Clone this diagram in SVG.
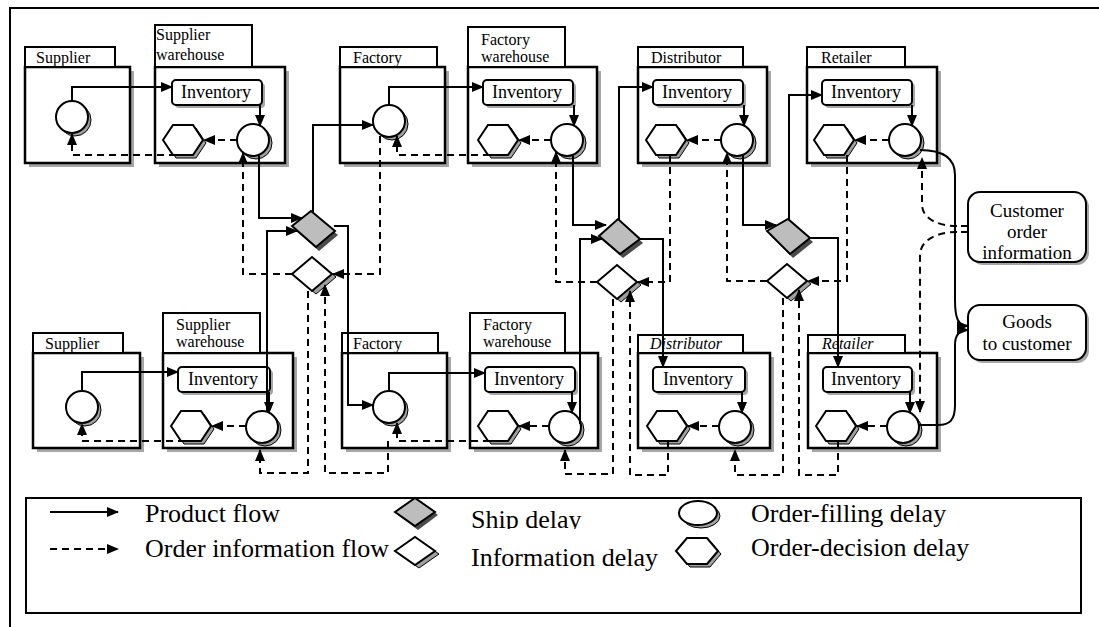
<svg xmlns="http://www.w3.org/2000/svg" width="1099" height="627" viewBox="0 0 1099 627">
<style>
.body{fill:#fff;stroke:#000;stroke-width:2.5}
.tab{fill:#fff;stroke:#000;stroke-width:2}
.sh{fill:#a6a6a6}
.inv{fill:#fff;stroke:#000;stroke-width:2}
.c{fill:#fff;stroke:#000;stroke-width:2}
.csh{fill:#a0a0a0;stroke:#000;stroke-width:1}
.hx{fill:#fff;stroke:#000;stroke-width:2}
.hsh{fill:#a0a0a0;stroke:#000;stroke-width:1}
.ship{fill:#bdbdbd;stroke:#000;stroke-width:2}
.shipsh{fill:#4a4a4a}
.info{fill:#fff;stroke:#000;stroke-width:2}
.infosh{fill:#a0a0a0;stroke:#000;stroke-width:1}
.s{fill:none;stroke:#000;stroke-width:2;marker-end:url(#ah)}
.sn{fill:none;stroke:#000;stroke-width:2}
.d{fill:none;stroke:#000;stroke-width:2;stroke-dasharray:7 5;marker-end:url(#ah)}
.dn{fill:none;stroke:#000;stroke-width:2;stroke-dasharray:7 5}
.t{font-family:"Liberation Serif","Times New Roman",serif;font-size:16px;fill:#000}
.ti{font-family:"Liberation Serif","Times New Roman",serif;font-size:18px;fill:#000;text-anchor:middle}
.tc{font-family:"Liberation Serif","Times New Roman",serif;font-size:19px;fill:#000;text-anchor:middle}
.tl{font-family:"Liberation Serif","Times New Roman",serif;font-size:26px;fill:#000}
</style>
<defs>
<marker id="ah" viewBox="0 0 12 10" refX="11" refY="5" markerWidth="12" markerHeight="10" markerUnits="userSpaceOnUse" orient="auto">
<path d="M0,0 L12,5 L0,10 z" fill="#000"/>
</marker>
<clipPath id="cut"><rect x="460" y="500" width="220" height="29"/></clipPath>
</defs>
<rect x="0" y="0" width="1099" height="627" fill="#fff"/>
<rect x="10" y="8" width="1100" height="640" fill="none" stroke="#000" stroke-width="2"/>

<!-- top row -->
<g id="supplier-top">
<rect class="sh" x="29" y="71" width="105" height="96"/>
<rect class="body" x="25" y="67" width="105" height="96"/>
<rect class="tab" x="25" y="47" width="90" height="20"/>
<text class="t" x="36" y="63">Supplier</text>
<circle class="csh" cx="75" cy="120" r="16"/><circle class="c" cx="72" cy="117" r="16"/>
</g>
<g id="supplier-warehouse-top">
<rect class="sh" x="159" y="71" width="130" height="96"/>
<rect class="body" x="155" y="67" width="130" height="96"/>
<rect class="tab" x="155" y="25" width="97" height="42"/>
<text class="t" x="156" y="40">Supplier</text><text class="t" x="156" y="60">warehouse</text>
<rect class="sh" x="175" y="83" width="90" height="25" rx="4"/>
<rect class="inv" x="172" y="80" width="90" height="25" rx="4"/>
<text class="ti" x="216" y="98">Inventory</text>
<polygon class="hsh" points="166,143 176,128 196,128 206,143 196,158 176,158"/>
<polygon class="hx" points="163,140 173,125 193,125 203,140 193,155 173,155"/>
<circle class="csh" cx="256" cy="143" r="16"/><circle class="c" cx="253" cy="140" r="16"/>
</g>
<g id="factory-top">
<rect class="sh" x="344" y="71" width="105" height="96"/>
<rect class="body" x="340" y="67" width="105" height="96"/>
<rect class="tab" x="340" y="47" width="97" height="20"/>
<text class="t" x="353" y="63">Factory</text>
<circle class="csh" cx="392" cy="124" r="16"/><circle class="c" cx="389" cy="121" r="16"/>
</g>
<g id="factory-warehouse-top">
<rect class="sh" x="472" y="71" width="129" height="96"/>
<rect class="body" x="468" y="67" width="129" height="96"/>
<rect class="tab" x="468" y="27" width="97" height="40"/>
<text class="t" x="481" y="45">Factory</text><text class="t" x="481" y="62">warehouse</text>
<rect class="sh" x="486" y="83" width="90" height="25" rx="4"/>
<rect class="inv" x="483" y="80" width="90" height="25" rx="4"/>
<text class="ti" x="527" y="98">Inventory</text>
<polygon class="hsh" points="481,143 491,128 511,128 521,143 511,158 491,158"/>
<polygon class="hx" points="478,140 488,125 508,125 518,140 508,155 488,155"/>
<circle class="csh" cx="570" cy="143" r="16"/><circle class="c" cx="567" cy="140" r="16"/>
</g>
<g id="distributor-top">
<rect class="sh" x="642" y="71" width="129" height="96"/>
<rect class="body" x="638" y="67" width="129" height="96"/>
<rect class="tab" x="638" y="47" width="105" height="20"/>
<text class="t" x="651" y="63">Distributor</text>
<rect class="sh" x="656" y="83" width="90" height="25" rx="4"/>
<rect class="inv" x="653" y="80" width="90" height="25" rx="4"/>
<text class="ti" x="697" y="98">Inventory</text>
<polygon class="hsh" points="649,143 659,128 679,128 689,143 679,158 659,158"/>
<polygon class="hx" points="646,140 656,125 676,125 686,140 676,155 656,155"/>
<circle class="csh" cx="740" cy="143" r="16"/><circle class="c" cx="737" cy="140" r="16"/>
</g>
<g id="retailer-top">
<rect class="sh" x="811" y="71" width="130" height="96"/>
<rect class="body" x="807" y="67" width="130" height="96"/>
<rect class="tab" x="807" y="47" width="98" height="20"/>
<text class="t" x="821" y="63">Retailer</text>
<rect class="sh" x="825" y="83" width="90" height="25" rx="4"/>
<rect class="inv" x="822" y="80" width="90" height="25" rx="4"/>
<text class="ti" x="866" y="98">Inventory</text>
<polygon class="hsh" points="817,143 827,128 847,128 857,143 847,158 827,158"/>
<polygon class="hx" points="814,140 824,125 844,125 854,140 844,155 824,155"/>
<circle class="csh" cx="908" cy="143" r="16"/><circle class="c" cx="905" cy="140" r="16"/>
</g>

<!-- bottom row -->
<g id="supplier-bottom">
<rect class="sh" x="37" y="357" width="107" height="95"/>
<rect class="body" x="33" y="353" width="107" height="95"/>
<rect class="tab" x="33" y="333" width="90" height="20"/>
<text class="t" x="45" y="349">Supplier</text>
<circle class="csh" cx="85" cy="410" r="16"/><circle class="c" cx="82" cy="407" r="16"/>
</g>
<g id="supplier-warehouse-bottom">
<rect class="sh" x="167" y="357" width="130" height="95"/>
<rect class="body" x="163" y="353" width="130" height="95"/>
<rect class="tab" x="163" y="313" width="97" height="40"/>
<text class="t" x="176" y="330">Supplier</text><text class="t" x="176" y="347">warehouse</text>
<rect class="sh" x="181" y="370" width="92" height="25" rx="4"/>
<rect class="inv" x="178" y="367" width="92" height="25" rx="4"/>
<text class="ti" x="223" y="385">Inventory</text>
<polygon class="hsh" points="174,429 184,414 204,414 214,429 204,444 184,444"/>
<polygon class="hx" points="171,426 181,411 201,411 211,426 201,441 181,441"/>
<circle class="csh" cx="265" cy="430" r="16"/><circle class="c" cx="262" cy="427" r="16"/>
</g>
<g id="factory-bottom">
<rect class="sh" x="346" y="357" width="105" height="95"/>
<rect class="body" x="342" y="353" width="105" height="95"/>
<rect class="tab" x="342" y="333" width="96" height="20"/>
<text class="t" x="353" y="349">Factory</text>
<circle class="csh" cx="392" cy="410" r="16"/><circle class="c" cx="389" cy="407" r="16"/>
</g>
<g id="factory-warehouse-bottom">
<rect class="sh" x="474" y="357" width="128" height="95"/>
<rect class="body" x="470" y="353" width="128" height="95"/>
<rect class="tab" x="470" y="313" width="95" height="40"/>
<text class="t" x="483" y="330">Factory</text><text class="t" x="483" y="347">warehouse</text>
<rect class="sh" x="488" y="370" width="90" height="25" rx="4"/>
<rect class="inv" x="485" y="367" width="90" height="25" rx="4"/>
<text class="ti" x="529" y="385">Inventory</text>
<polygon class="hsh" points="481,429 491,414 511,414 521,429 511,444 491,444"/>
<polygon class="hx" points="478,426 488,411 508,411 518,426 508,441 488,441"/>
<circle class="csh" cx="568" cy="430" r="16"/><circle class="c" cx="565" cy="427" r="16"/>
</g>
<g id="distributor-bottom">
<rect class="sh" x="642" y="357" width="132" height="95"/>
<rect class="body" x="638" y="353" width="132" height="95"/>
<rect class="tab" x="638" y="335" width="105" height="18"/>
<text class="t" x="650" y="349" font-style="italic">Distributor</text>
<rect class="sh" x="656" y="370" width="92" height="25" rx="4"/>
<rect class="inv" x="653" y="367" width="92" height="25" rx="4"/>
<text class="ti" x="698" y="385">Inventory</text>
<polygon class="hsh" points="650,429 660,414 680,414 690,429 680,444 660,444"/>
<polygon class="hx" points="647,426 657,411 677,411 687,426 677,441 657,441"/>
<circle class="csh" cx="738" cy="430" r="16"/><circle class="c" cx="735" cy="427" r="16"/>
</g>
<g id="retailer-bottom">
<rect class="sh" x="812" y="357" width="129" height="95"/>
<rect class="body" x="808" y="353" width="129" height="95"/>
<rect class="tab" x="808" y="335" width="97" height="18"/>
<text class="t" x="822" y="349" font-style="italic">Retailer</text>
<rect class="sh" x="826" y="370" width="89" height="25" rx="4"/>
<rect class="inv" x="823" y="367" width="89" height="25" rx="4"/>
<text class="ti" x="866" y="385">Inventory</text>
<polygon class="hsh" points="819,429 829,414 849,414 859,429 849,444 829,444"/>
<polygon class="hx" points="816,426 826,411 846,411 856,426 846,441 826,441"/>
<circle class="csh" cx="906" cy="430" r="16"/><circle class="c" cx="903" cy="427" r="16"/>
</g>

<!-- delays -->
<g id="ship-delay-1">
<polygon class="shipsh" points="295,230 314,215 338,235 319,251"/>
<polygon class="ship" points="292,226 311,211 335,231 316,247"/>
</g>
<g id="info-delay-1">
<polygon class="infosh" points="296,277 316,260 336,277 316,294"/>
<polygon class="info" points="292,274 312,257 332,274 312,291"/>
</g>
<g id="ship-delay-2">
<polygon class="shipsh" points="602,240 621,223 643,243 623,258"/>
<polygon class="ship" points="599,236 618,219 640,239 620,254"/>
</g>
<g id="info-delay-2">
<polygon class="infosh" points="601,285 621,268 641,285 621,302"/>
<polygon class="info" points="597,282 617,265 637,282 617,299"/>
</g>
<g id="ship-delay-3">
<polygon class="shipsh" points="770,235 791,223 813,242 793,258"/>
<polygon class="ship" points="767,231 788,219 810,238 790,254"/>
</g>
<g id="info-delay-3">
<polygon class="infosh" points="771,284 791,267 811,284 791,301"/>
<polygon class="info" points="767,281 787,264 807,281 787,298"/>
</g>

<!-- customer -->
<g id="customer-order">
<rect class="sh" x="971" y="195" width="118" height="70" rx="12"/>
<rect class="inv" x="968" y="192" width="118" height="70" rx="12"/>
<text class="tc" x="1027" y="217">Customer</text>
<text class="tc" x="1027" y="238">order</text>
<text class="tc" x="1027" y="259">information</text>
</g>
<g id="goods">
<rect class="sh" x="971" y="308" width="118" height="55" rx="12"/>
<rect class="inv" x="968" y="305" width="118" height="55" rx="12"/>
<text class="tc" x="1027" y="328">Goods</text>
<text class="tc" x="1027" y="350">to customer</text>
</g>

<g id="connectors">
<!-- product flow -->
<path class="s" d="M72,101 V87 H172"/>
<path class="s" d="M389,105 V87 H483"/>
<path class="s" d="M619,220 V87 H653"/>
<path class="s" d="M789,220 V95 H822"/>
<path class="s" d="M260,105 V126"/>
<path class="s" d="M574,105 V126"/>
<path class="s" d="M744,105 V126"/>
<path class="s" d="M912,105 V126"/>
<path class="s" d="M269,392 V413"/>
<path class="s" d="M572,392 V413"/>
<path class="s" d="M742,392 V413"/>
<path class="s" d="M910,392 V413"/>
<path class="s" d="M82,391 V372 H178"/>
<path class="s" d="M389,391 V373 H485"/>
<path class="s" d="M259,155 V218 H302"/>
<path class="s" d="M267,412 V231 H297"/>
<path class="s" d="M313,212 V125 H373"/>
<path class="s" d="M334,226 H348 V405 H373"/>
<path class="s" d="M573,155 V225 H606"/>
<path class="s" d="M580,424 V239 H602"/>
<path class="s" d="M639,239 H663 V367"/>
<path class="s" d="M743,155 V225 H776"/>
<path class="s" d="M809,238 H838 V367"/>
<path class="s" d="M920,150 C940,150 955,156 955,175 V300 C955,318 958,326 968,326"/>
<path class="s" d="M918,425 H938 C950,425 955,420 955,405 V345 C955,336 958,330 968,330"/>
<!-- order information flow -->
<path class="d" d="M237,140 H204"/>
<path class="d" d="M551,140 H519"/>
<path class="d" d="M721,140 H687"/>
<path class="d" d="M889,140 H855"/>
<path class="d" d="M246,426 H212"/>
<path class="d" d="M549,426 H519"/>
<path class="d" d="M719,426 H688"/>
<path class="d" d="M887,426 H857"/>
<path class="d" d="M176,155 H72 V134"/>
<path class="d" d="M490,155 H397 V136"/>
<path class="d" d="M185,441 H82 V424"/>
<path class="d" d="M490,441 H397 V423"/>
<path class="d" d="M292,274 H243 V153"/>
<path class="d" d="M380,136 V274 H333"/>
<path class="d" d="M308,291 V473 H260 V450"/>
<path class="d" d="M388,441 V473 H325 V285"/>
<path class="d" d="M597,282 H556 V152"/>
<path class="d" d="M670,155 V282 H638"/>
<path class="d" d="M613,299 V474 H565 V450"/>
<path class="d" d="M668,441 V475 H630 V291"/>
<path class="d" d="M767,281 H727 V153"/>
<path class="d" d="M847,155 V281 H808"/>
<path class="d" d="M783,298 V475 H735 V450"/>
<path class="d" d="M838,441 V475 H799 V290"/>
<path class="dn" d="M968,226 H957"/>
<path class="dn" d="M968,232 H957"/>
<path class="d" d="M957,226 C940,226 922,220 922,204 V158"/>
<path class="d" d="M957,232 C940,232 920,238 920,256 V412"/>
</g>

<g id="legend">
<rect x="26" y="498" width="1055" height="115" fill="none" stroke="#000" stroke-width="2"/>
<path class="s" d="M50,512 H118"/>
<path class="d" d="M50,549 H118"/>
<text class="tl" x="145" y="522">Product flow</text>
<text class="tl" x="145" y="557">Order information flow</text>
<polygon class="shipsh" points="398,515 418,500 438,515 418,530"/>
<polygon class="ship" points="395,512 415,498 435,512 415,526"/>
<text class="tl" x="471" y="528" clip-path="url(#cut)">Ship delay</text>
<polygon class="infosh" points="399,554 419,540 439,554 419,568"/>
<polygon class="info" points="395,551 415,537 435,551 415,565"/>
<text class="tl" x="471" y="566">Information delay</text>
<ellipse class="csh" cx="701" cy="516" rx="19" ry="12"/>
<ellipse class="c" cx="698" cy="513" rx="19" ry="12"/>
<polygon class="hsh" points="679,554 690,541 710,541 721,554 710,567 690,567"/>
<polygon class="hx" points="676,551 687,538 707,538 718,551 707,564 687,564"/>
<text class="tl" x="751" y="522">Order-filling delay</text>
<text class="tl" x="751" y="556">Order-decision delay</text>
</g>
</svg>
